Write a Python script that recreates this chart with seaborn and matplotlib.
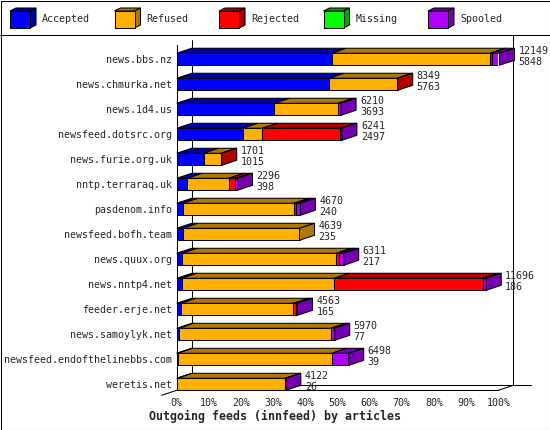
import numpy as np
import matplotlib
matplotlib.use("Agg")
import matplotlib.pyplot as plt
from matplotlib.patches import Polygon, Rectangle
from matplotlib.lines import Line2D
from matplotlib.transforms import IdentityTransform
import seaborn as sns

# values
hosts = ["news.bbs.nz", "news.chmurka.net", "news.1d4.us", "newsfeed.dotsrc.org",
         "news.furie.org.uk", "nntp.terraraq.uk", "pasdenom.info", "newsfeed.bofh.team",
         "news.quux.org", "news.nntp4.net", "feeder.erje.net", "news.samoylyk.net",
         "newsfeed.endofthelinebbs.com", "weretis.net"]
offered = [12149, 8349, 6210, 6241, 1701, 2296, 4670, 4639, 6311, 11696, 4563, 5970, 6498, 4122]
accepted = [5848, 5763, 3693, 2497, 1015, 398, 240, 235, 217, 186, 165, 77, 39, 26]
refused = [5991, 2556, 2400, 737, 676, 1568, 4190, 4404, 5815, 5768, 4238, 5742, 5817, 4080]
rejected = [75, 30, 0, 2943, 10, 250, 80, 0, 87, 5610, 100, 0, 0, 0]
missing = [0, 0, 0, 0, 0, 0, 0, 0, 0, 0, 0, 0, 0, 0]
spooled = [280, 0, 117, 64, 0, 80, 160, 0, 190, 128, 60, 151, 642, 16]

series = ["Accepted", "Refused", "Rejected", "Missing", "Spooled"]
front_col = ["#0000FF", "#FFB000", "#FF0000", "#00FF00", "#B000FF"]
dark_col = ["#0000A8", "#B07800", "#B00000", "#00A800", "#7400B0"]

W, H = 550, 430
DX, DY = 15, 5          # depth of the fake 3d, pixels
BAR_H = 0.48

sns.set_style("white")
plt.rcParams["font.family"] = ["DejaVu Sans Mono"]
plt.rcParams["font.size"] = 7.2

fig = plt.figure(figsize=(W / 100, H / 100), dpi=100)
ax = fig.add_axes([176.7 / W, (H - 390.3) / H, (498.3 - 176.7) / W, (390.3 - 40) / H])
ax.set_facecolor("none")

top = max(offered)
n = len(hosts)
left = np.zeros(n)
segs = []
for name, vals, col in zip(series, [accepted, refused, rejected, missing, spooled], front_col):
    pct = np.array(vals, dtype=float) / top * 100
    lw = [0.75 if v > 0 else 0 for v in vals]
    sns.barplot(x=pct, y=hosts, order=hosts, orient="h", color=col, saturation=1,
                width=BAR_H, left=left.copy(), edgecolor="black", linewidth=lw,
                errorbar=None, ax=ax, zorder=2)
    segs.append((left.copy(), left + pct))
    left = left + pct

ax.set_xlim(0, 100)
ax.set_ylim(13.24, -0.77)
ax.set_xlabel("")
ax.set_ylabel("")
ax.set_xticks(np.arange(0, 101, 10))
ax.set_xticklabels([f"{t}%" for t in range(0, 101, 10)])
ax.tick_params(axis="x", length=2.9, width=0.75, pad=2.5, labelsize=7.2, color="black")
ax.tick_params(axis="y", length=0, pad=3.4, labelsize=7.2)
for s in ["top", "right"]:
    ax.spines[s].set_visible(False)
for s in ["left", "bottom"]:
    ax.spines[s].set_color("black")
    ax.spines[s].set_linewidth(0.75)
ax.spines["left"].set_bounds(13.24, -0.77 + DY / 25)

ident = IdentityTransform()
td = ax.transData


def poly(pts, color, z=3):
    ax.add_patch(Polygon(pts, closed=True, facecolor=color, edgecolor="black",
                         linewidth=0.75, transform=ident, clip_on=False, zorder=z))


# top faces and the side face of each bar
for i in range(n):
    ytop = i - BAR_H / 2
    ybot = i + BAR_H / 2
    last = None
    for k, (x0s, x1s) in enumerate(segs):
        x0, x1 = x0s[i], x1s[i]
        if x1 - x0 <= 0:
            continue
        p0 = td.transform((x0, ytop))
        p1 = td.transform((x1, ytop))
        poly([p0, p1, p1 + (DX, DY), p0 + (DX, DY)], dark_col[k])
        last = k
    xe = segs[-1][1][i]
    pt = td.transform((xe, ytop))
    pb = td.transform((xe, ybot))
    poly([pt, pb, pb + (DX, DY), pt + (DX, DY)], dark_col[last])
    ax.annotate(str(offered[i]), (xe, i), xytext=(19, 8), textcoords="offset pixels",
                va="center", ha="left", fontsize=7.2, zorder=4, annotation_clip=False)
    ax.annotate(str(accepted[i]), (xe, i), xytext=(19, -3), textcoords="offset pixels",
                va="center", ha="left", fontsize=7.2, zorder=4, annotation_clip=False)

# back wall and floor lines
ta = ax.transAxes
c00 = ta.transform((0, 0))
c10 = ta.transform((1, 0))
c01 = ta.transform((0, 1))


def seg(a, b, z=0.5):
    ax.add_line(Line2D([a[0], b[0]], [a[1], b[1]], color="black", linewidth=0.75,
                       transform=ident, clip_on=False, zorder=z))


back = np.array([DX, DY])
seg(c00 + back, (c01[0] + DX, c01[1]))
seg(c10 + back, (c10[0] + DX, H - 35))
seg(c00 + back, c10 + back + (18, 0))
seg(c10, c10 + back, z=1)
seg(c00 - back, c00, z=1)

# legend with little boxes
for k, name in enumerate(series):
    x = 10 + 104.5 * k
    y0, y1 = H - 11, H - 28
    fig.add_artist(Polygon([(x, y0), (x + 20, y0), (x + 26, y0 + 3), (x + 6, y0 + 3)],
                           facecolor=dark_col[k], edgecolor="black", linewidth=0.75,
                           transform=ident))
    fig.add_artist(Polygon([(x + 20, y0), (x + 20, y1), (x + 26, y1 + 3), (x + 26, y0 + 3)],
                           facecolor=dark_col[k], edgecolor="black", linewidth=0.75,
                           transform=ident))
    fig.add_artist(Rectangle((x, y1), 20, 17, facecolor=front_col[k], edgecolor="black",
                             linewidth=0.75, transform=ident))
    fig.text((x + 32) / W, 1 - 19.5 / H, name, va="center", ha="left", fontsize=7.2)

fig.add_artist(Line2D([0, 1], [1 - 35 / H, 1 - 35 / H], color="black", linewidth=0.75,
                      transform=fig.transFigure))
fig.add_artist(Rectangle((0.5, 0.5), W - 1, H - 1, fill=False, edgecolor="black",
                         linewidth=0.75, transform=ident))

fig.text(0.5, 1 - 416.5 / H, "Outgoing feeds (innfeed) by articles", ha="center",
         va="center", fontsize=8.4, fontweight="bold")

fig.savefig("out.png", dpi=100)
